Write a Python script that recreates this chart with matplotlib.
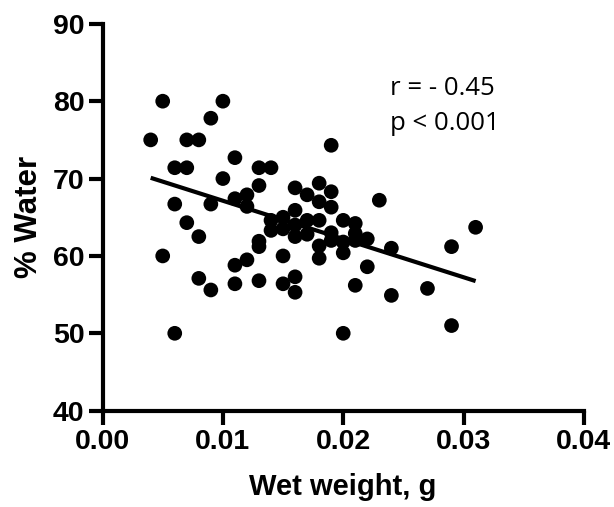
import numpy as np
import matplotlib
matplotlib.use("Agg")
import matplotlib.pyplot as plt

# wet weight (g) and % water
wet_weight = [0.004, 0.005, 0.005, 0.006, 0.006, 0.006, 0.007, 0.007, 0.007,
              0.008, 0.008, 0.008, 0.009, 0.009, 0.009, 0.010, 0.010,
              0.011, 0.011, 0.011, 0.011, 0.012, 0.012, 0.012,
              0.013, 0.013, 0.013, 0.013, 0.013, 0.014, 0.014, 0.014,
              0.015, 0.015, 0.015, 0.015, 0.016, 0.016, 0.016, 0.016, 0.016, 0.016,
              0.017, 0.017, 0.017, 0.018, 0.018, 0.018, 0.018, 0.018,
              0.019, 0.019, 0.019, 0.019, 0.019, 0.020, 0.020, 0.020, 0.020,
              0.021, 0.021, 0.021, 0.021, 0.022, 0.022, 0.023, 0.024, 0.024,
              0.027, 0.029, 0.029, 0.031]
pct_water = [75.0, 80.0, 60.0, 71.4, 66.7, 50.0, 75.0, 71.4, 64.3,
             75.0, 62.5, 57.1, 77.8, 66.7, 55.6, 80.0, 70.0,
             72.7, 67.4, 58.8, 56.4, 67.9, 66.4, 59.5,
             71.4, 69.1, 61.2, 61.9, 56.8, 71.4, 64.6, 63.3,
             65.0, 63.5, 60.0, 56.4, 68.8, 65.9, 64.0, 62.5, 57.3, 55.3,
             67.9, 64.6, 62.8, 69.4, 67.0, 64.6, 61.3, 59.7,
             74.3, 68.3, 66.3, 63.0, 62.0, 64.6, 61.8, 60.4, 50.0,
             64.2, 62.9, 62.0, 56.2, 62.2, 58.6, 67.2, 61.0, 54.9,
             55.8, 61.2, 51.0, 63.7]

# regression line end points
fit_x = [0.004, 0.031]
fit_y = [70.1, 56.75]

x_ticks = [0.00, 0.01, 0.02, 0.03, 0.04]
y_ticks = [40, 50, 60, 70, 80, 90]

plt.rcParams['font.family'] = ['Liberation Sans', 'DejaVu Sans']

fig = plt.figure(figsize=(6.14, 5.07), dpi=100)
ax = fig.add_axes([0.167, 0.19, 0.784, 0.763])

ax.scatter(wet_weight, pct_water, s=112, color='black', edgecolors='none', zorder=3)
ax.plot(fit_x, fit_y, color='black', lw=3, solid_capstyle='butt', zorder=4)

ax.set_xlim(0, 0.04)
ax.set_ylim(40, 90)
ax.set_xticks(x_ticks)
ax.set_xticklabels([f"{t:.2f}" for t in x_ticks])
ax.set_yticks(y_ticks)

for side in ['top', 'right']:
    ax.spines[side].set_visible(False)
for side in ['left', 'bottom']:
    ax.spines[side].set_linewidth(3)
    ax.spines[side].set_capstyle('projecting')

ax.tick_params(width=3, length=10, pad=3, labelsize=20.5)
for lab in ax.get_xticklabels() + ax.get_yticklabels():
    lab.set_fontweight('bold')

ax.set_xlabel("Wet weight, g", fontsize=21, fontweight='bold')
ax.set_ylabel("% Water", fontsize=22.5, fontweight='bold')
ax.xaxis.set_label_coords(0.498, -0.16)
ax.yaxis.set_label_coords(-0.121, 0.5)

ax.text(0.0239, 81.6, "r = - 0.45", fontsize=18.5, family=['Open Sans', 'DejaVu Sans'],
        ha='left', va='center')
ax.text(0.0239, 77.1, "p < 0.001", fontsize=18.5, family=['Open Sans', 'DejaVu Sans'],
        ha='left', va='center')

fig.savefig("out.png", dpi=100)
